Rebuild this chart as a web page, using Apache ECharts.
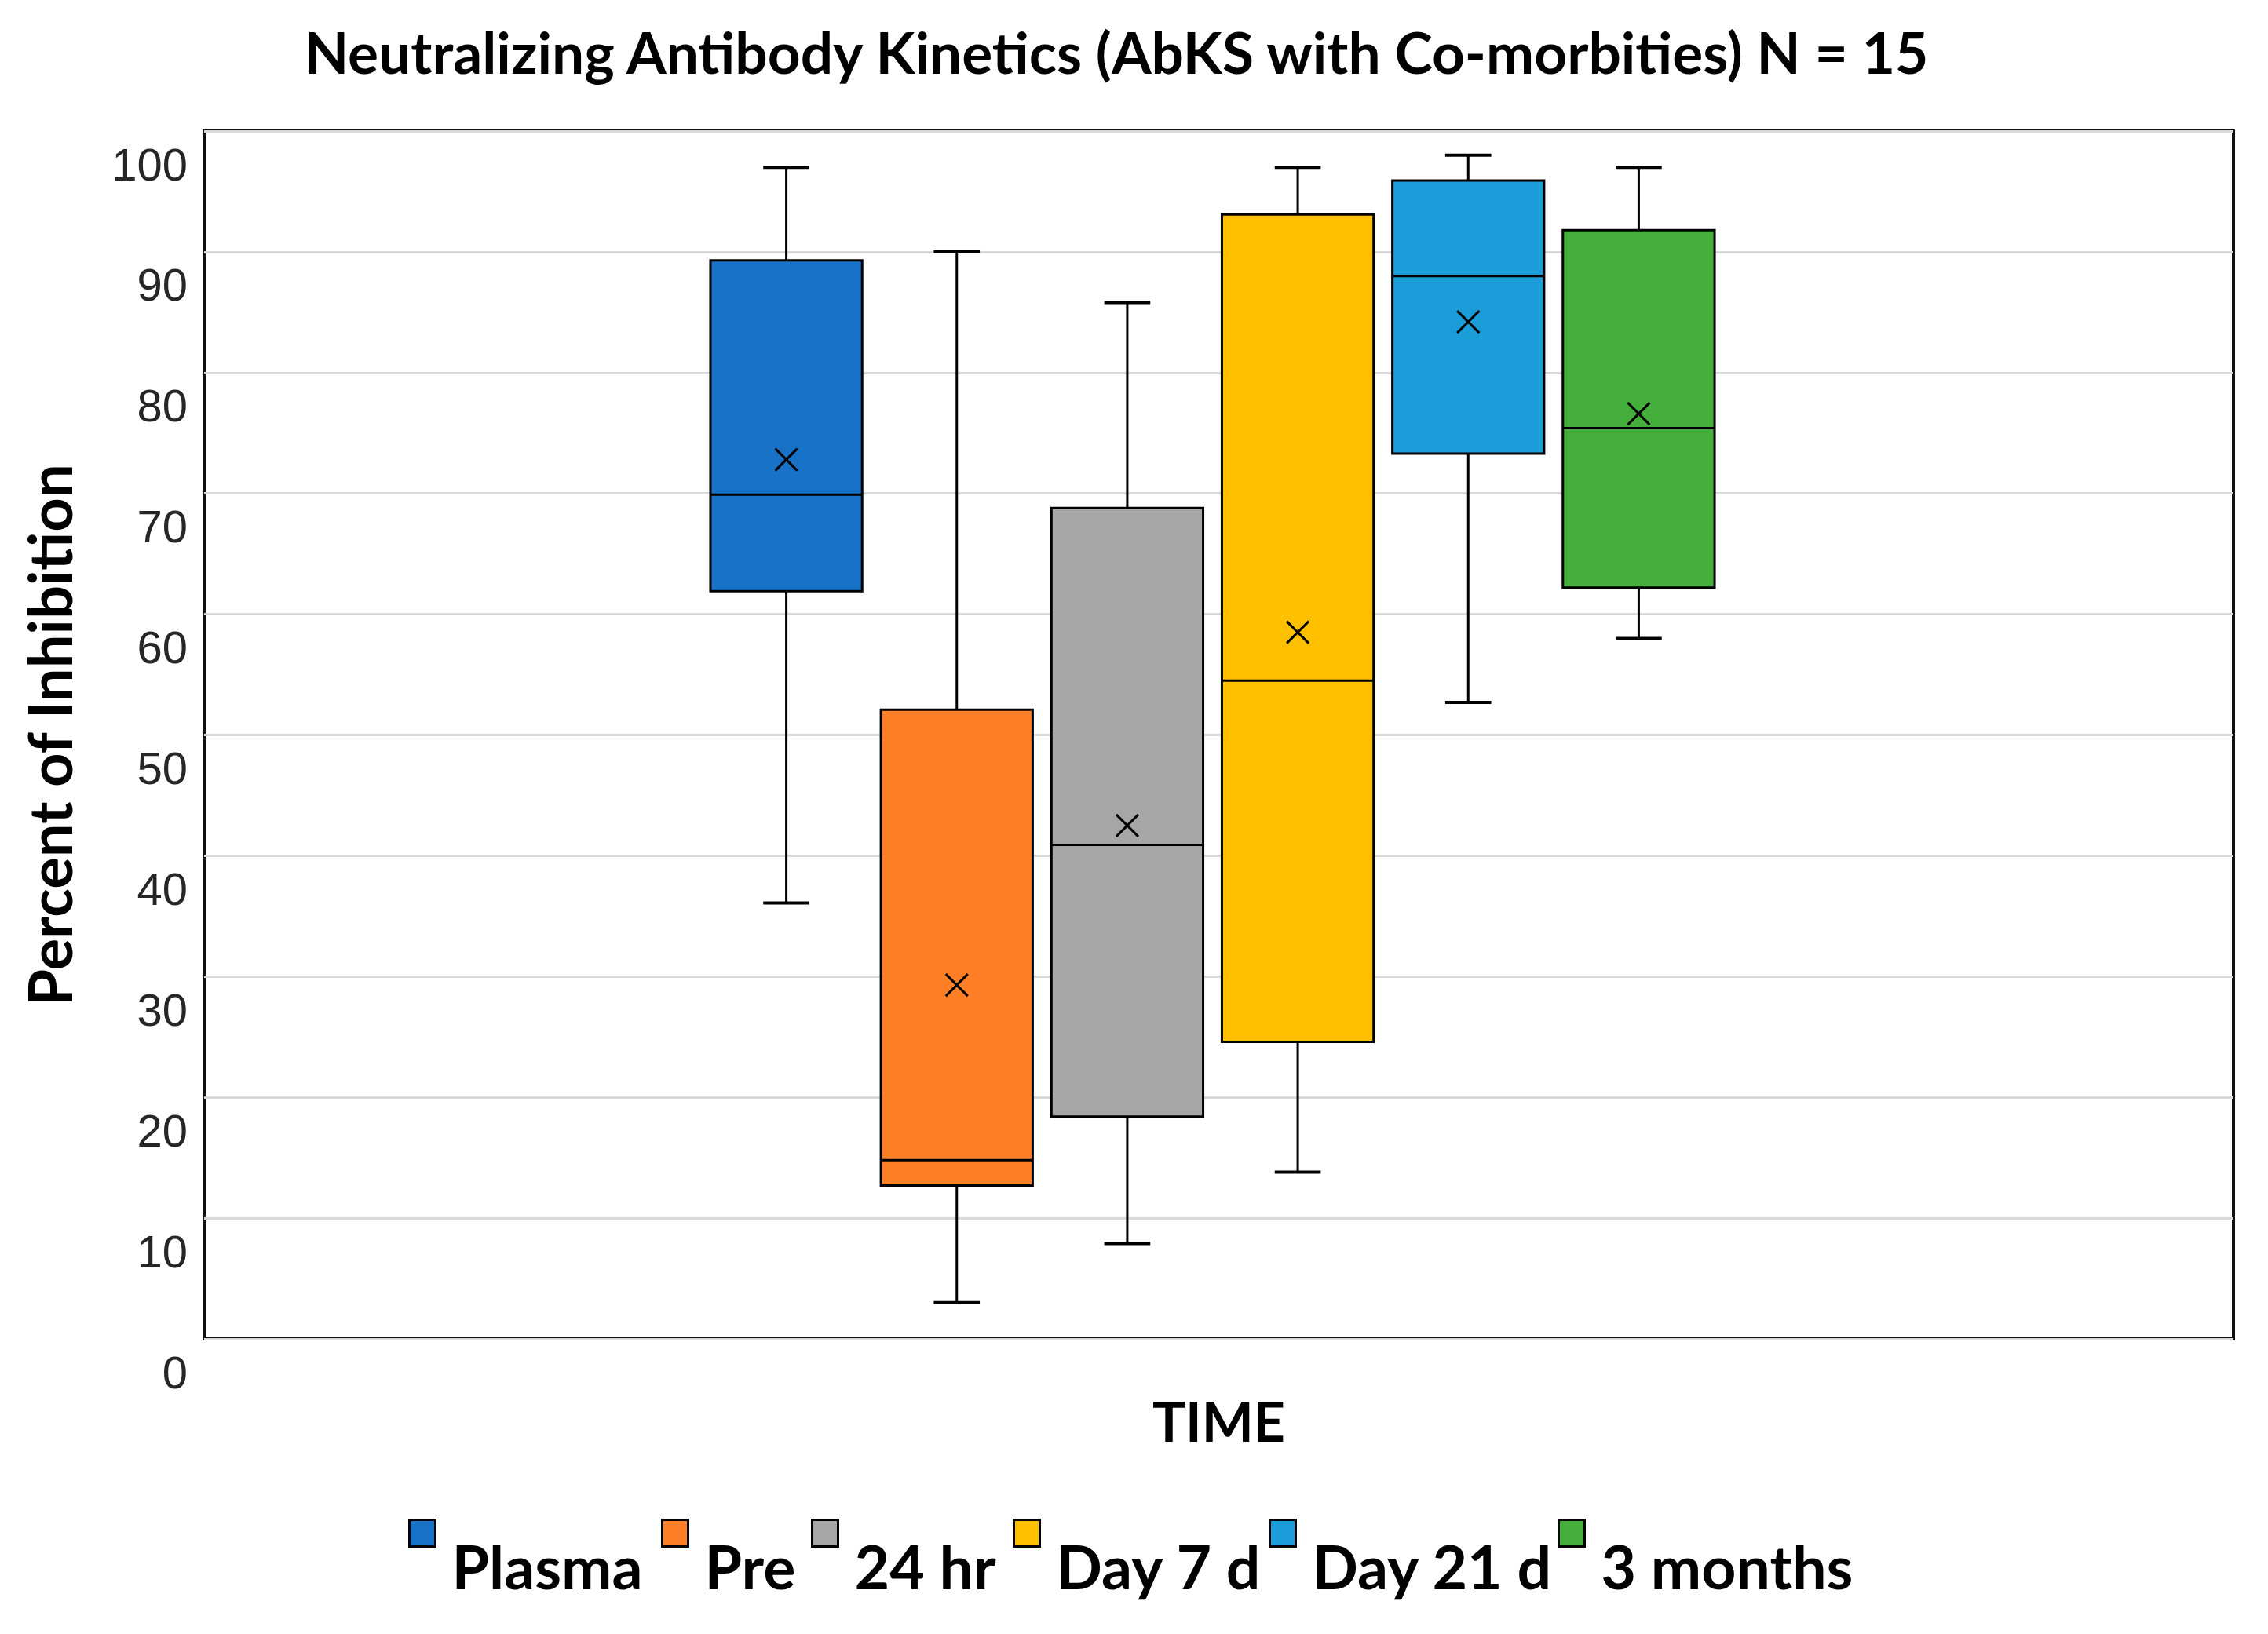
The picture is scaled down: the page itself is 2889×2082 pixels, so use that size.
<!DOCTYPE html>
<html><head><meta charset="utf-8">
<script src="https://cdn.jsdelivr.net/npm/echarts@6/dist/echarts.min.js"></script>
<style>html,body{margin:0;padding:0;background:#fff}#c{width:2889px;height:2082px}</style>
</head><body><div id="c"></div>
<script>
// ---- data ----
const categories = ['Plasma', 'Pre', '24 hr', 'Day 7 d', 'Day 21 d', '3 months'];
const minValues    = [36.1,  3.0,  7.9, 13.8, 52.7, 58.0];
const q1Values     = [61.9, 12.7, 18.4, 24.6, 73.3, 62.2];
const medianValues = [69.9, 14.8, 40.9, 54.5, 88.0, 75.4];
const q3Values     = [89.3, 52.1, 68.8, 93.1, 95.9, 91.8];
const maxValues    = [97.0, 90.0, 85.8, 97.0, 98.0, 97.0];
const meanValues   = [72.8, 29.3, 42.5, 58.5, 84.2, 76.6];
const yMin = 0, yMax = 100, yStep = 10;

// ---- style ----
const colors = ['#1872C8', '#FF7F27', '#A6A6A6', '#FFC000', '#1A9DD9', '#44AF3A'];
const legendLeft = [520, 842, 1033, 1290, 1616, 1984];
const boldFont = { fontFamily: 'Lato', fontWeight: 'bold', color: '#000' };

function renderBox(params, api) {
  const i = api.value(0);
  const pMin = api.coord([i, api.value(1)]);
  const pQ1 = api.coord([i, api.value(2)]);
  const pMed = api.coord([i, api.value(3)]);
  const pQ3 = api.coord([i, api.value(4)]);
  const pMax = api.coord([i, api.value(5)]);
  const pMean = api.coord([i, api.value(6)]);
  const band = api.size([1, 0])[0];
  const bw = band * 0.89, cw = band * 0.27, x = pMed[0], xs = 14;
  const ln = { stroke: '#000', lineWidth: 3 };
  const cap = { stroke: '#000', lineWidth: 4 };
  return {
    type: 'group',
    children: [
      { type: 'line', shape: { x1: x, y1: pMax[1], x2: x, y2: pQ3[1] }, style: ln },
      { type: 'line', shape: { x1: x, y1: pQ1[1], x2: x, y2: pMin[1] }, style: ln },
      { type: 'line', shape: { x1: x - cw / 2, y1: pMax[1], x2: x + cw / 2, y2: pMax[1] }, style: cap },
      { type: 'line', shape: { x1: x - cw / 2, y1: pMin[1], x2: x + cw / 2, y2: pMin[1] }, style: cap },
      { type: 'rect', shape: { x: x - bw / 2, y: pQ3[1], width: bw, height: pQ1[1] - pQ3[1] },
        style: { fill: api.visual('color'), stroke: '#000', lineWidth: 3 } },
      { type: 'line', shape: { x1: x - bw / 2, y1: pMed[1], x2: x + bw / 2, y2: pMed[1] }, style: ln },
      { type: 'line', shape: { x1: x - xs, y1: pMean[1] - xs, x2: x + xs, y2: pMean[1] + xs }, style: ln },
      { type: 'line', shape: { x1: x - xs, y1: pMean[1] + xs, x2: x + xs, y2: pMean[1] - xs }, style: ln }
    ]
  };
}

const chart = echarts.init(document.getElementById('c'), null, { renderer: 'svg' });
chart.setOption({
  backgroundColor: '#fff',
  animation: false,
  title: {
    text: 'Neutralizing Antibody Kinetics (AbKS with Co-morbities) N = 15',
    left: 388, top: 29, padding: 0,
    textStyle: Object.assign({ fontSize: 73, lineHeight: 73 }, boldFont)
  },
  grid: [
    { left: 260, right: 44, top: 167, bottom: 376, show: true, borderColor: '#111', borderWidth: 4 },
    { left: 893, right: 693, top: 167, bottom: 376 }
  ],
  xAxis: [
    { type: 'category', gridIndex: 0, data: [''], axisLine: { show: false }, axisTick: { show: false },
      axisLabel: { show: false }, splitLine: { show: false },
      name: 'TIME', nameLocation: 'middle', nameGap: 68,
      nameTextStyle: Object.assign({ fontSize: 70, lineHeight: 72 }, boldFont) },
    { type: 'category', gridIndex: 1, data: categories, show: false }
  ],
  yAxis: [
    { type: 'value', gridIndex: 0, min: yMin, max: yMax, interval: yStep,
      axisLine: { show: false }, axisTick: { show: false },
      splitLine: { lineStyle: { color: '#d9d9d9', width: 3 } },
      axisLabel: { fontFamily: 'Liberation Sans', fontSize: 58, color: '#262626', margin: 21,
                   verticalAlign: 'top', lineHeight: 84 },
      name: 'Percent of Inhibition', nameLocation: 'middle', nameRotate: 90, nameGap: 160,
      nameTextStyle: Object.assign({ fontSize: 76, lineHeight: 76 }, boldFont) },
    { type: 'value', gridIndex: 1, min: yMin, max: yMax, show: false }
  ],
  legend: categories.map((name, i) => ({
    data: [name], left: legendLeft[i], top: 1910, padding: 0, selectedMode: false,
    itemWidth: 33, itemHeight: 34, icon: 'rect',
    itemStyle: { borderColor: '#000', borderWidth: 3 },
    formatter: n => '{g| }\n{t|' + n + '}',
    textStyle: Object.assign({
      fontSize: 77,
      rich: {
        g: { fontSize: 10, lineHeight: 83 },
        t: Object.assign({ fontSize: 77, lineHeight: 77, padding: [0, 0, 0, 16] }, boldFont)
      }
    }, boldFont)
  })),
  series: categories.map((name, i) => ({
    type: 'custom', name: name, xAxisIndex: 1, yAxisIndex: 1,
    itemStyle: { color: colors[i] },
    encode: { x: 0, y: [1, 2, 3, 4, 5, 6] },
    data: [[i, minValues[i], q1Values[i], medianValues[i], q3Values[i], maxValues[i], meanValues[i]]],
    renderItem: renderBox
  }))
});
</script></body></html>
